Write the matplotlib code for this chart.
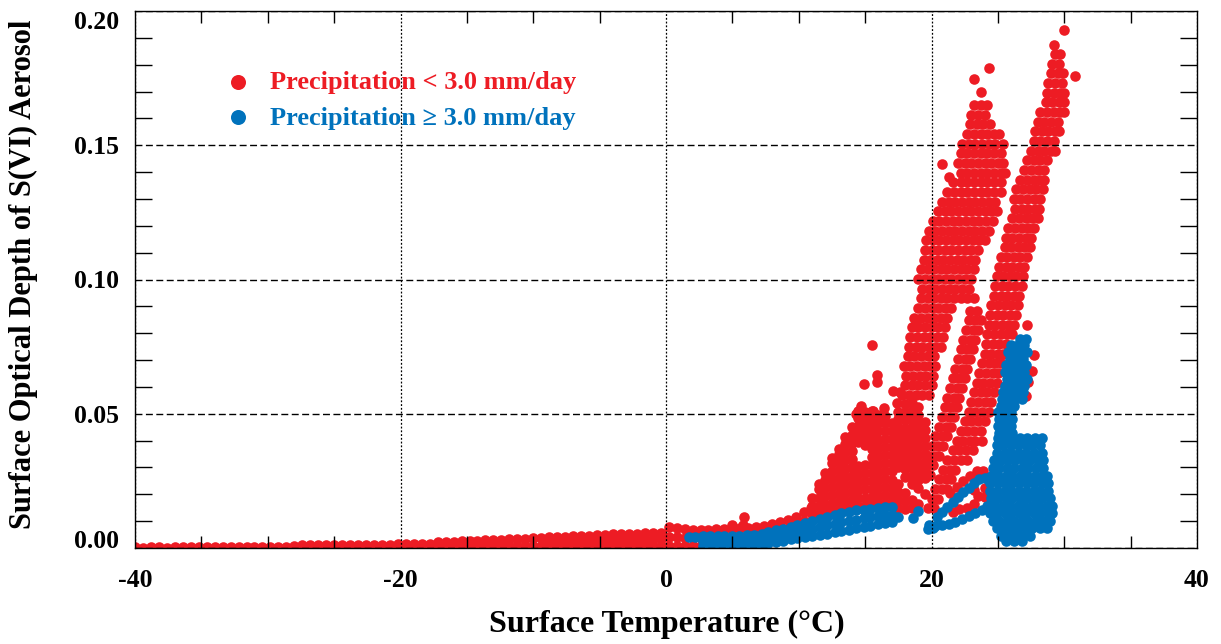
import numpy as np
import matplotlib
matplotlib.use("Agg")
import matplotlib.pyplot as plt
from matplotlib.ticker import MultipleLocator

plt.rcParams['font.family'] = ['Liberation Serif', 'DejaVu Serif']
plt.rcParams['font.weight'] = 'bold'

RED = "#ED1C24"
BLUE = "#0072BC"

# ---------------- axis texts ----------------
x_label = "Surface Temperature (\u00b0C)"
y_label = "Surface Optical Depth of S(VI) Aerosol"
x_ticks = [-40, -20, 0, 20, 40]
x_tick_labels = ["-40", "-20", "0", "20", "40"]
y_ticks = [0.00, 0.05, 0.10, 0.15, 0.20]
y_tick_labels = ["0.00", "0.05", "0.10", "0.15", "0.20"]
series_labels = ["Precipitation < 3.0 mm/day", "Precipitation \u2265 3.0 mm/day"]

# ---------------- red points (precip < 3 mm/day) ----------------
red_floor_base = [
    (-40.0, 0.0002), (-39.4, 0.0001), (-38.8, 0.0002), (-38.2, 0.0002), (-37.6, 0.0001),
    (-37.0, 0.0002), (-36.4, 0.0002), (-35.8, 0.0003), (-35.2, 0.0002), (-34.6, 0.0002),
    (-34.0, 0.0003), (-33.4, 0.0003), (-32.8, 0.0002), (-32.2, 0.0003), (-31.6, 0.0003),
    (-31.0, 0.0003), (-30.4, 0.0004), (-29.8, 0.0004), (-29.2, 0.0004), (-28.6, 0.0005),
    (-28.0, 0.0009), (-27.4, 0.0010), (-26.8, 0.0010), (-26.2, 0.0010), (-25.6, 0.0011),
    (-25.0, 0.0011), (-24.4, 0.0011), (-23.8, 0.0012), (-23.2, 0.0012), (-22.6, 0.0012),
    (-22.0, 0.0012), (-21.4, 0.0013), (-20.8, 0.0013), (-20.2, 0.0014), (-19.6, 0.0014),
    (-19.0, 0.0015), (-18.4, 0.0015), (-17.8, 0.0016),
    (-17.2, 0.0008), (-16.6, 0.0008), (-16.0, 0.0008), (-15.4, 0.0008), (-14.8, 0.0008),
    (-14.2, 0.0008), (-13.6, 0.0008), (-13.0, 0.0008), (-12.4, 0.0008), (-11.8, 0.0008),
    (-11.2, 0.0008), (-10.6, 0.0008), (-10.0, 0.0008), (-9.4, 0.0008), (-8.8, 0.0008),
    (-8.2, 0.0008), (-7.6, 0.0008), (-7.0, 0.0008), (-6.4, 0.0008), (-5.8, 0.0008),
    (-5.2, 0.0008), (-4.6, 0.0008), (-4.0, 0.0008), (-3.4, 0.0008), (-2.8, 0.0008),
    (-2.2, 0.0008), (-1.6, 0.0008), (-1.0, 0.0008), (-0.4, 0.0008), (0.2, 0.0008),
    (0.8, 0.0008), (1.4, 0.0008), (2.0, 0.0008), (2.6, 0.0008), (3.2, 0.0008),
    (3.8, 0.0008), (4.4, 0.0008), (5.0, 0.0008), (5.6, 0.0008), (6.2, 0.0008),
]
red_floor_mid = [
    (-8.8, 0.0024), (-8.2, 0.0025), (-7.6, 0.0025), (-7.0, 0.0026), (-6.4, 0.0026),
    (-5.8, 0.0027), (-5.2, 0.0028), (-4.6, 0.0028), (-4.0, 0.0029), (-3.4, 0.0030),
    (-2.8, 0.0030), (-2.2, 0.0031), (-1.6, 0.0031), (-1.0, 0.0032), (-0.4, 0.0032),
    (0.2, 0.0042), (0.8, 0.0040), (1.4, 0.0038), (2.0, 0.0038), (2.6, 0.0038),
    (3.2, 0.0038), (3.8, 0.0039), (4.4, 0.0040), (5.0, 0.0040), (5.6, 0.0041), (6.2, 0.0042),
]
red_floor_top = [
    (-17.2, 0.0021), (-16.6, 0.0022), (-16.0, 0.0024), (-15.4, 0.0025), (-14.8, 0.0026),
    (-14.2, 0.0027), (-13.6, 0.0028), (-13.0, 0.0029), (-12.4, 0.0030), (-11.8, 0.0032),
    (-11.2, 0.0033), (-10.6, 0.0035), (-10.0, 0.0036), (-9.4, 0.0038), (-8.8, 0.0040),
    (-8.2, 0.0041), (-7.6, 0.0042), (-7.0, 0.0043), (-6.4, 0.0044), (-5.8, 0.0045),
    (-5.2, 0.0047), (-4.6, 0.0049), (-4.0, 0.0051), (-3.4, 0.0053), (-2.8, 0.0054),
    (-2.2, 0.0054), (-1.6, 0.0055), (-1.0, 0.0055), (-0.4, 0.0056), (0.2, 0.0078),
    (0.8, 0.0074), (1.4, 0.0070), (2.0, 0.0068), (2.6, 0.0068), (3.2, 0.0068),
    (3.8, 0.0069), (4.4, 0.0070), (5.0, 0.0071), (5.6, 0.0073), (6.2, 0.0075),
]
red_lowband = [
    (6.8, 0.0078), (7.4, 0.0083), (8.0, 0.0088), (8.6, 0.0095), (9.2, 0.0105),
    (9.8, 0.0117), (10.4, 0.0133), (10.9, 0.0150), (6.8, 0.0048), (7.4, 0.0052),
    (8.0, 0.0058), (8.6, 0.0064), (9.2, 0.0072), (9.8, 0.0085), (10.4, 0.0100),
    (5.9, 0.0117), (5.8, 0.0084), (5.0, 0.0087),
]
red_cloud_cols = [
    (11.0, [0.0125, 0.0155, 0.0185]),
    (11.5, [0.0128, 0.0158, 0.0188, 0.0218, 0.0240]),
    (12.0, [0.0132, 0.0162, 0.0192, 0.0222, 0.0252, 0.0278]),
    (12.5, [0.0136, 0.0166, 0.0196, 0.0226, 0.0256, 0.0286, 0.0315, 0.0335]),
    (13.0, [0.0140, 0.0170, 0.0200, 0.0230, 0.0260, 0.0290, 0.0320, 0.0350, 0.0370]),
    (13.5, [0.0146, 0.0176, 0.0206, 0.0236, 0.0266, 0.0296, 0.0326, 0.0356, 0.0386, 0.0412]),
    (14.0, [0.0150, 0.0180, 0.0210, 0.0240, 0.0270, 0.0300, 0.0330, 0.0360, 0.0390, 0.0420, 0.0450]),
    (14.5, [0.0155, 0.0185, 0.0215, 0.0245, 0.0275, 0.0305, 0.0395, 0.0425, 0.0455, 0.0485, 0.0510]),
    (15.0, [0.0158, 0.0188, 0.0218, 0.0248, 0.0278, 0.0308, 0.0385, 0.0415, 0.0445, 0.0475, 0.0505]),
    (15.5, [0.0160, 0.0190, 0.0220, 0.0250, 0.0280, 0.0310, 0.0340, 0.0370, 0.0400, 0.0430, 0.0460, 0.0490, 0.0512]),
    (16.0, [0.0164, 0.0194, 0.0224, 0.0254, 0.0284, 0.0314, 0.0344, 0.0374, 0.0404, 0.0434, 0.0464, 0.0494]),
    (16.5, [0.0166, 0.0196, 0.0226, 0.0256, 0.0286, 0.0316, 0.0346, 0.0376, 0.0406, 0.0436, 0.0466, 0.0490]),
    (17.0, [0.0165, 0.0195, 0.0225, 0.0255, 0.0285, 0.0315, 0.0345, 0.0375, 0.0405, 0.0435, 0.0465]),
    (17.5, [0.0150, 0.0180, 0.0210, 0.0240, 0.0300, 0.0330, 0.0360, 0.0390, 0.0420, 0.0450, 0.0480, 0.0505]),
    (18.0, [0.0145, 0.0175, 0.0205, 0.0265, 0.0295, 0.0325, 0.0355, 0.0385, 0.0415, 0.0445, 0.0475, 0.0505, 0.0535]),
    (18.5, [0.0150, 0.0180, 0.0240, 0.0270, 0.0300, 0.0330, 0.0360, 0.0390, 0.0420, 0.0450, 0.0480, 0.0510, 0.0540]),
    (19.0, [0.0165, 0.0225, 0.0255, 0.0285, 0.0315, 0.0345, 0.0375, 0.0405, 0.0435, 0.0465, 0.0495, 0.0525]),
    (19.5, [0.0200, 0.0260, 0.0290, 0.0320, 0.0350, 0.0380, 0.0410, 0.0440, 0.0470]),
]
red_left_rows = [
    (0.0570, [17.8, 18.3, 18.8, 19.3, 19.8]),
    (0.0606, [18.0, 18.5, 19.0, 19.5, 20.0]),
    (0.0642, [18.1, 18.6, 19.1, 19.6, 20.1]),
    (0.0678, [17.9, 18.4, 18.9, 19.4, 19.9, 20.3]),
    (0.0714, [18.2, 18.7, 19.2, 19.7, 20.2]),
    (0.0750, [18.3, 18.8, 19.3, 19.8, 20.3, 20.7]),
    (0.0786, [18.4, 18.9, 19.4, 19.9, 20.4, 20.9]),
    (0.0822, [18.5, 19.0, 19.5, 20.0, 20.5, 21.0]),
    (0.0858, [18.7, 19.2, 19.7, 20.2, 20.7, 21.2]),
    (0.0894, [19.0, 19.5, 20.0, 20.5, 21.0, 21.5]),
    (0.0930, [19.2, 19.7, 20.2, 20.7, 21.2, 21.7, 22.2, 22.7, 23.2]),
    (0.0966, [19.3, 19.8, 20.3, 20.8, 21.3, 21.8, 22.3, 22.8]),
    (0.1002, [19.0, 19.5, 20.0, 20.5, 21.0, 21.5, 22.0, 22.5, 23.0]),
    (0.1038, [19.2, 19.7, 20.2, 20.7, 21.2, 21.7, 22.2, 22.7, 23.2]),
    (0.1074, [19.4, 19.9, 20.4, 20.9, 21.4, 21.9, 22.4, 22.9, 23.3]),
    (0.1110, [19.5, 20.0, 20.5, 21.0, 21.5, 22.0, 22.5, 23.0, 23.5]),
    (0.1146, [19.6, 20.1, 20.6, 21.1, 21.6, 22.1, 22.6, 23.1, 23.6, 24.0]),
    (0.1182, [19.8, 20.3, 20.8, 21.3, 21.8, 22.3, 22.8, 23.3, 23.8, 24.3]),
    (0.1218, [20.1, 20.6, 21.1, 21.6, 22.1, 22.6, 23.1, 23.6, 24.1, 24.6]),
    (0.1254, [20.5, 21.0, 21.5, 22.0, 22.5, 23.0, 23.5, 24.0, 24.5, 24.9]),
    (0.1290, [20.8, 21.3, 21.8, 22.3, 22.8, 23.3, 23.8, 24.3, 24.8]),
    (0.1326, [21.2, 21.7, 22.2, 22.7, 23.2, 23.7, 24.2, 24.7, 25.2]),
    (0.1362, [21.6, 22.2, 22.7, 23.2, 23.7, 24.2, 24.7, 25.2]),
    (0.1398, [22.2, 22.7, 23.2, 23.7, 24.2, 24.7, 25.2, 25.5]),
    (0.1434, [22.0, 22.5, 23.0, 23.5, 24.0, 24.5, 25.0, 25.4]),
    (0.1470, [22.2, 22.7, 23.2, 23.7, 24.2, 24.7, 25.2]),
    (0.1506, [22.3, 22.8, 23.3, 23.8, 24.3, 24.8, 25.4]),
    (0.1542, [22.7, 23.2, 23.7, 24.2, 24.7, 25.1]),
    (0.1578, [22.9, 23.4, 23.9, 24.4]),
    (0.1614, [23.0, 23.5, 24.0]),
    (0.1650, [23.2, 23.7, 24.2]),
]
red_s2_rows = [
    (0.0884, [22.9, 23.4]),
    (0.0848, [22.8, 23.3, 23.7]),
    (0.0812, [22.6, 23.1, 23.5]),
    (0.0776, [22.4, 22.9, 23.3]),
    (0.0740, [22.2, 22.7, 23.1]),
    (0.0704, [22.0, 22.5, 22.9]),
    (0.0668, [21.8, 22.3, 22.7]),
    (0.0632, [21.6, 22.1, 22.5]),
    (0.0596, [21.4, 21.9, 22.3]),
    (0.0560, [21.2, 21.7, 22.1]),
    (0.0524, [21.0, 21.5, 21.9]),
    (0.0488, [20.8, 21.3, 21.7]),
    (0.0452, [20.6, 21.1, 21.5]),
    (0.0416, [20.3, 20.8, 21.2]),
    (0.0380, [20.0, 20.5, 20.9]),
    (0.0344, [19.8, 20.3, 20.6]),
    (0.0308, [19.6, 20.1]),
    (0.0272, [19.4, 19.9]),
]
red_s3_rows = [
    (0.0724, [24.0, 24.5, 25.0, 25.4]),
    (0.0688, [23.8, 24.3, 24.8, 25.2]),
    (0.0652, [23.6, 24.1, 24.6, 25.0]),
    (0.0616, [23.4, 23.9, 24.4, 24.9]),
    (0.0580, [23.2, 23.7, 24.2, 24.7]),
    (0.0544, [23.0, 23.5, 24.0, 24.5]),
    (0.0508, [22.8, 23.3, 23.8, 24.3]),
    (0.0472, [22.5, 23.0, 23.5, 24.0]),
    (0.0436, [22.2, 22.7, 23.2, 23.7]),
    (0.0400, [21.9, 22.4, 22.9, 23.3, 23.8]),
    (0.0364, [21.6, 22.1, 22.6, 23.1]),
    (0.0328, [21.2, 21.7, 22.2, 22.7]),
    (0.0292, [20.9, 21.4, 21.8]),
    (0.0256, [20.6, 21.1, 21.5]),
    (0.0220, [20.3, 20.8, 21.2]),
    (0.0184, [20.0, 20.5]),
    (0.0148, [19.7, 20.2]),
]
red_right_rows = [
    (0.1930, [29.97]),
    (0.1875, [29.2]),
    (0.1840, [29.3, 29.7]),
    (0.1804, [29.1, 29.6]),
    (0.1768, [29.0, 29.5, 29.9]),
    (0.1732, [28.8, 29.3, 29.8]),
    (0.1696, [28.7, 29.2, 29.7, 30.0]),
    (0.1660, [28.6, 29.1, 29.6, 30.0]),
    (0.1624, [28.2, 28.7, 29.2, 29.7, 30.0]),
    (0.1588, [28.0, 28.5, 29.0, 29.5]),
    (0.1552, [27.8, 28.3, 28.8, 29.3, 29.6]),
    (0.1516, [27.7, 28.2, 28.7, 29.2]),
    (0.1480, [27.5, 28.0, 28.5, 29.0, 29.3]),
    (0.1444, [27.2, 27.7, 28.2, 28.7]),
    (0.1408, [27.0, 27.5, 28.0, 28.5]),
    (0.1372, [26.7, 27.2, 27.7, 28.2, 28.5]),
    (0.1336, [26.4, 26.9, 27.4, 27.9, 28.4]),
    (0.1300, [26.2, 26.7, 27.2, 27.7, 28.2]),
    (0.1264, [26.3, 26.8, 27.3, 27.8, 28.1]),
    (0.1228, [26.1, 26.6, 27.1, 27.6, 28.0]),
    (0.1192, [25.8, 26.3, 26.8, 27.3, 27.7]),
    (0.1156, [25.6, 26.1, 26.6, 27.1, 27.5]),
    (0.1120, [25.5, 26.0, 26.5, 27.0, 27.4]),
    (0.1084, [25.2, 25.7, 26.2, 26.7, 27.2]),
    (0.1048, [25.1, 25.6, 26.1, 26.6, 27.0]),
    (0.1012, [24.9, 25.4, 25.9, 26.4, 26.9]),
    (0.0976, [24.8, 25.3, 25.8, 26.3, 26.8]),
    (0.0940, [24.7, 25.2, 25.7, 26.2, 26.6]),
    (0.0904, [24.5, 25.0, 25.5, 26.0, 26.5]),
    (0.0868, [24.4, 24.9, 25.4, 25.9, 26.4]),
    (0.0832, [24.3, 24.8, 25.3, 25.8, 26.2]),
    (0.0796, [24.2, 24.7, 25.2, 25.7, 26.1]),
    (0.0760, [24.1, 24.6, 25.1, 25.6]),
]
red_loop = [
    (21.6, 0.0135), (22.1, 0.0145), (22.7, 0.0150), (23.2, 0.0165), (23.5, 0.0195),
    (23.2, 0.0215), (24.0, 0.0190), (24.0, 0.0225), (23.9, 0.0285), (23.4, 0.0285),
    (22.9, 0.0270), (22.4, 0.0250), (21.9, 0.0228), (21.4, 0.0205),
]
red_outliers = [
    (15.5, 0.0757), (15.9, 0.0645), (15.9, 0.0620), (14.9, 0.0610), (17.1, 0.0585),
    (17.6, 0.0580), (17.4, 0.0540), (14.7, 0.0530), (16.4, 0.0520), (15.6, 0.0510),
    (14.3, 0.0500), (24.3, 0.1786), (23.2, 0.1745), (23.7, 0.1700), (21.3, 0.1380),
    (20.8, 0.1430), (30.8, 0.1757), (27.2, 0.0830), (27.7, 0.0720), (27.3, 0.0620),
    (27.6, 0.0660), (27.1, 0.0567), (18.8, 0.0846),
]

# ---------------- blue points (precip >= 3 mm/day) ----------------
blue_band_top = [
    (1.7, 0.0042), (2.2, 0.0040), (2.8, 0.0043), (3.3, 0.0044), (3.9, 0.0045),
    (4.4, 0.0045), (5.0, 0.0046), (5.5, 0.0046), (6.1, 0.0047), (6.6, 0.0048),
    (7.2, 0.0054), (7.7, 0.0060), (8.3, 0.0066), (8.8, 0.0072), (9.4, 0.0078),
    (9.9, 0.0085), (10.5, 0.0092), (11.0, 0.0100), (11.6, 0.0108), (12.1, 0.0115),
    (12.7, 0.0122), (13.2, 0.0130), (13.8, 0.0135), (14.3, 0.0140), (14.9, 0.0143),
    (15.4, 0.0147), (16.0, 0.0150), (16.5, 0.0153), (17.0, 0.0152),
]
blue_band_mid = [
    (2.8, 0.0026), (3.3, 0.0026), (3.9, 0.0027), (4.4, 0.0027), (5.0, 0.0027),
    (5.5, 0.0027), (6.1, 0.0028), (6.6, 0.0028), (7.2, 0.0033), (7.7, 0.0038),
    (8.3, 0.0044), (8.8, 0.0050), (9.4, 0.0055), (9.9, 0.0061), (10.5, 0.0066),
    (11.0, 0.0072), (11.6, 0.0078), (12.1, 0.0084), (12.7, 0.0090), (13.2, 0.0096),
    (13.8, 0.0101), (14.3, 0.0106), (14.9, 0.0110), (15.4, 0.0115), (16.0, 0.0119),
    (16.5, 0.0122), (17.0, 0.0123),
]
blue_band_bot = [
    (2.8, 0.0008), (3.3, 0.0008), (3.9, 0.0008), (4.4, 0.0008), (5.0, 0.0008),
    (5.5, 0.0008), (6.1, 0.0008), (6.6, 0.0008), (7.2, 0.0012), (7.7, 0.0017),
    (8.3, 0.0022), (8.8, 0.0027), (9.4, 0.0032), (9.9, 0.0037), (10.5, 0.0041),
    (11.0, 0.0045), (11.6, 0.0049), (12.1, 0.0054), (12.7, 0.0058), (13.2, 0.0063),
    (13.8, 0.0068), (14.3, 0.0073), (14.9, 0.0078), (15.4, 0.0083), (16.0, 0.0088),
    (16.5, 0.0092), (17.0, 0.0095),
]
blue_strays = [(17.5, 0.0115), (18.6, 0.0112), (19.0, 0.0139), (19.7, 0.0072), (20.1, 0.0076)]
blue_loop = [
    (19.8, 0.0085), (20.3, 0.0082), (20.8, 0.0085), (21.3, 0.0090), (21.8, 0.0098),
    (22.3, 0.0108), (22.8, 0.0118), (23.3, 0.0130), (23.8, 0.0142), (24.2, 0.0155),
    (20.4, 0.0115), (20.8, 0.0135), (21.2, 0.0153), (21.6, 0.0171), (22.0, 0.0189),
    (22.4, 0.0207), (22.8, 0.0225), (23.2, 0.0243), (23.6, 0.0258), (24.0, 0.0262),
]
blue_strand_rows = [
    (0.0780, [26.7, 27.1]),
    (0.0755, [26.0, 26.5, 27.0]),
    (0.0730, [25.8, 26.3, 26.8, 27.2]),
    (0.0705, [25.9, 26.4, 26.9]),
    (0.0680, [25.6, 26.1, 26.6, 27.1]),
    (0.0655, [25.5, 26.0, 26.5, 27.0]),
    (0.0630, [25.7, 26.2, 26.7, 27.2]),
    (0.0605, [25.5, 26.0, 26.5, 27.0]),
    (0.0580, [25.4, 25.9, 26.4, 26.9]),
    (0.0555, [25.3, 25.8, 26.3, 26.8]),
    (0.0530, [25.2, 25.7, 26.2]),
    (0.0505, [25.0, 25.5, 26.0]),
    (0.0480, [25.1, 25.6, 26.1]),
    (0.0455, [25.0, 25.5, 26.0]),
    (0.0430, [25.1, 25.6, 26.1]),
]
blue_blob_rows = [
    (0.0410, [25.0, 25.6, 26.1, 26.7, 27.2, 27.8, 28.3]),
    (0.0382, [24.9, 25.4, 26.0, 26.5, 27.1, 27.6, 28.2]),
    (0.0354, [24.9, 25.5, 26.0, 26.6, 27.1, 27.7, 28.3]),
    (0.0326, [24.7, 25.2, 25.8, 26.3, 26.9, 27.4, 28.0, 28.4]),
    (0.0298, [24.6, 25.1, 25.7, 26.2, 26.8, 27.3, 27.9, 28.4]),
    (0.0270, [24.5, 25.0, 25.6, 26.1, 26.7, 27.2, 27.8, 28.3, 28.7]),
    (0.0242, [24.4, 25.0, 25.5, 26.1, 26.6, 27.2, 27.7, 28.3, 28.8]),
    (0.0214, [24.4, 24.9, 25.5, 26.0, 26.6, 27.1, 27.7, 28.2, 28.8]),
    (0.0186, [24.5, 25.0, 25.6, 26.1, 26.7, 27.2, 27.8, 28.3, 28.9]),
    (0.0158, [24.3, 24.8, 25.4, 25.9, 26.5, 27.0, 27.6, 28.1, 28.7, 29.1]),
    (0.0130, [24.4, 24.9, 25.5, 26.0, 26.6, 27.1, 27.7, 28.2, 28.8, 29.1]),
    (0.0102, [24.6, 25.1, 25.7, 26.2, 26.8, 27.3, 27.9, 28.4, 28.9]),
    (0.0074, [24.9, 25.4, 26.0, 26.5, 27.1, 27.6, 28.2, 28.7]),
    (0.0046, [25.2, 25.7, 26.3, 26.8, 27.4]),
    (0.0025, [25.6, 26.2, 26.8]),
]


def pairs_xy(pairs):
    a = np.array(pairs, dtype=float)
    return a[:, 0], a[:, 1]


def rows_xy(rows):
    xs, ys = [], []
    for yv, xl in rows:
        xs.extend(xl)
        ys.extend([yv] * len(xl))
    return np.array(xs), np.array(ys)


def cols_xy(cols):
    xs, ys = [], []
    for xv, yl in cols:
        ys.extend(yl)
        xs.extend([xv] * len(yl))
    return np.array(xs), np.array(ys)


red_parts = [pairs_xy(red_floor_base), pairs_xy(red_floor_mid), pairs_xy(red_floor_top),
             pairs_xy(red_lowband), cols_xy(red_cloud_cols), rows_xy(red_left_rows),
             rows_xy(red_s2_rows), rows_xy(red_s3_rows), rows_xy(red_right_rows),
             pairs_xy(red_loop), pairs_xy(red_outliers)]
blue_parts = [pairs_xy(blue_band_bot), pairs_xy(blue_band_mid), pairs_xy(blue_band_top),
              pairs_xy(blue_strays), pairs_xy(blue_loop), rows_xy(blue_strand_rows),
              rows_xy(blue_blob_rows)]
rx = np.concatenate([p[0] for p in red_parts]); ry = np.concatenate([p[1] for p in red_parts])
bx = np.concatenate([p[0] for p in blue_parts]); by = np.concatenate([p[1] for p in blue_parts])

# ---------------- figure ----------------
W, H = 1221, 644
fig = plt.figure(figsize=(W / 100, H / 100), dpi=100)
ax = fig.add_axes([135 / W, 1 - 548 / H, 1062 / W, 537 / H])

MS = 58
ax.scatter(rx, ry, s=MS, c=RED, linewidths=0, zorder=1)
ax.scatter(bx, by, s=MS, c=BLUE, linewidths=0, zorder=1.1)

ax.set_xlim(-40, 40)
ax.set_ylim(0, 0.2)
ax.set_xticks(x_ticks)
ax.set_xticklabels(x_tick_labels)
ax.set_yticks(y_ticks)
ax.set_yticklabels(y_tick_labels)
ax.xaxis.set_minor_locator(MultipleLocator(5))
ax.yaxis.set_minor_locator(MultipleLocator(0.01))
ax.tick_params(which='both', direction='in', top=True, right=True, width=1, labelsize=18.5)
ax.tick_params(which='major', length=0)
ax.tick_params(axis='x', which='minor', length=8.5)
ax.tick_params(axis='y', which='minor', length=12.5)
ax.tick_params(axis='x', which='major', pad=15)
ax.tick_params(axis='y', which='major', pad=11.5)
ylbls = ax.get_yticklabels()
ylbls[0].set_va('baseline')
ylbls[-1].set_va('top')

ax.set_axisbelow(False)
ax.xaxis.grid(True, which='major', color='black', lw=0.9, ls=(0, (1.5, 1.5)))
ax.yaxis.grid(True, which='major', color='black', lw=1.0, ls=(0, (5, 2.5)))
for sp in ax.spines.values():
    sp.set_linewidth(1.0)
    sp.set_zorder(3)

# legend (manual, coloured text)
ax.scatter([(238 - 135) / 1062], [(548 - 81.7) / 537], s=117, c=RED, linewidths=0,
           transform=ax.transAxes, clip_on=False, zorder=2)
ax.scatter([(238 - 135) / 1062], [(548 - 116.7) / 537], s=117, c=BLUE, linewidths=0,
           transform=ax.transAxes, clip_on=False, zorder=2)
ax.text((270 - 135) / 1062, (548 - 89.5) / 537, series_labels[0], color=RED, fontsize=19,
        fontweight='bold', transform=ax.transAxes, va='baseline', ha='left', zorder=2)
ax.text((270 - 135) / 1062, (548 - 124.5) / 537, series_labels[1], color=BLUE, fontsize=19,
        fontweight='bold', transform=ax.transAxes, va='baseline', ha='left', zorder=2)

fig.text(23 / W, 1 - 274 / H, y_label, rotation=90, ha='center', va='center',
         fontsize=22, fontweight='bold')
fig.text(667 / W, 1 - 624 / H, x_label, ha='center', va='center',
         fontsize=23, fontweight='bold')

fig.savefig("out.png", dpi=100)
